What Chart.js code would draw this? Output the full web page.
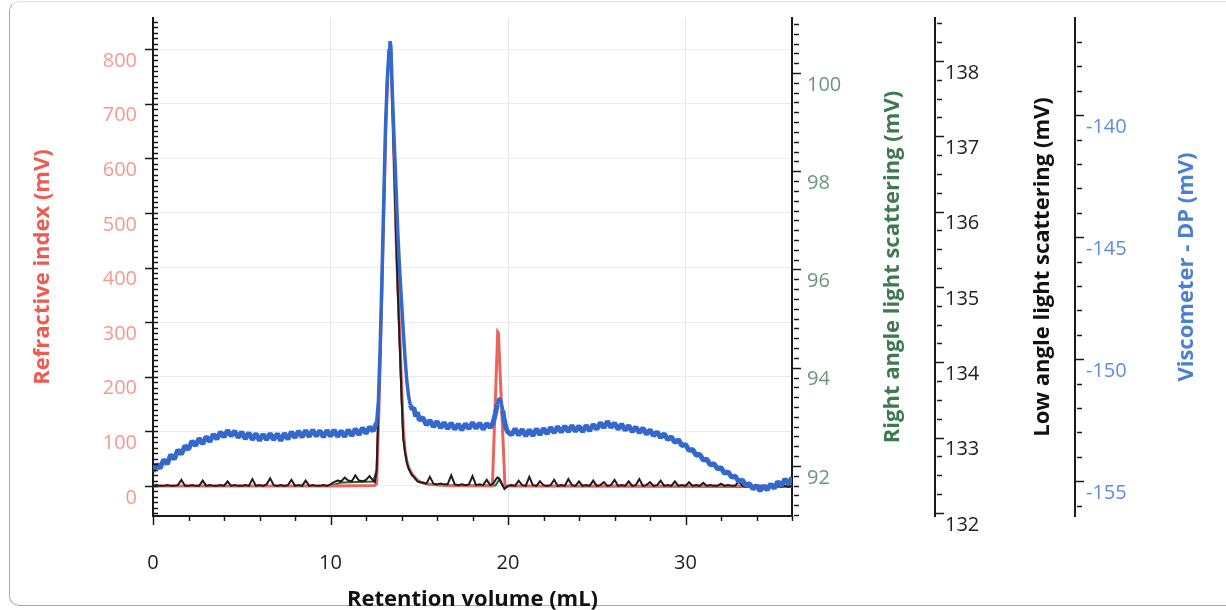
<!DOCTYPE html>
<html>
<head>
<meta charset="utf-8">
<script src="https://cdn.jsdelivr.net/npm/chart.js@4"></script>
<style>
  body { margin: 0; background: #fff; }
  #wrap { position: relative; width: 1226px; height: 610px; overflow: hidden; }
  #frame { position: absolute; left: 9px; top: 1px; width: 1260px; height: 603px;
           border: 1.5px solid #a9a9a9; border-top-color: #e2e2e2; border-radius: 10px; }
  #chart { position: absolute; left: 0; top: 0; }
</style>
</head>
<body>
<div id="wrap">
  <div id="frame"></div>
  <canvas id="chart" width="1226" height="610"></canvas>
</div>
<script>
// retention volume grid (mL) shared by viscometer and low angle traces
const volume = [
  0, 0.2, 0.4, 0.6, 0.8, 1, 1.2, 1.4, 1.6, 1.8,
  2, 2.2, 2.4, 2.6, 2.8, 3, 3.2, 3.4, 3.6, 3.8,
  4, 4.2, 4.4, 4.6, 4.8, 5, 5.2, 5.4, 5.6, 5.8,
  6, 6.2, 6.4, 6.6, 6.8, 7, 7.2, 7.4, 7.6, 7.8,
  8, 8.2, 8.4, 8.6, 8.8, 9, 9.2, 9.4, 9.6, 9.8,
  10, 10.2, 10.4, 10.6, 10.8, 11, 11.2, 11.4, 11.6, 11.8,
  12, 12.2, 12.4,
  12.5, 12.6, 12.7, 12.8, 12.9, 13, 13.1, 13.2, 13.3, 13.35, 13.4, 13.5, 13.6, 13.7,
  13.8, 13.9, 14, 14.1, 14.2, 14.3, 14.4, 14.5, 14.6, 14.7, 14.8, 14.9, 15,
  15.2, 15.4, 15.6, 15.8, 16, 16.2, 16.4, 16.6, 16.8, 17,
  17.2, 17.4, 17.6, 17.8, 18, 18.2, 18.4, 18.6, 18.8, 19,
  19.1, 19.2, 19.3, 19.4, 19.5, 19.6, 19.7, 19.8, 19.9, 20,
  20.2, 20.4, 20.6, 20.8, 21, 21.2, 21.4, 21.6, 21.8, 22,
  22.2, 22.4, 22.6, 22.8, 23, 23.2, 23.4, 23.6, 23.8, 24,
  24.2, 24.4, 24.6, 24.8, 25, 25.2, 25.4, 25.6, 25.8, 26,
  26.2, 26.4, 26.6, 26.8, 27, 27.2, 27.4, 27.6, 27.8, 28,
  28.2, 28.4, 28.6, 28.8, 29, 29.2, 29.4, 29.6, 29.8, 30,
  30.2, 30.4, 30.6, 30.8, 31, 31.2, 31.4, 31.6, 31.8, 32,
  32.2, 32.4, 32.6, 32.8, 33, 33.2, 33.4, 33.6, 33.8, 34,
  34.2, 34.4, 34.6, 34.8, 35, 35.2, 35.4, 35.6, 35.8, 36
];

// Viscometer - DP (mV)
const viscSignal = [
  -154.62, -154.3, -154.48, -154.12, -154.3, -153.92, -154.1, -153.72, -153.9, -153.55,
  -153.7, -153.36, -153.55, -153.25, -153.48, -153.18, -153.38, -153.08, -153.28, -152.98,
  -153.2, -152.92, -153.15, -152.95, -153.22, -152.98, -153.27, -153.02, -153.3, -153.05,
  -153.34, -153.08, -153.3, -153.05, -153.3, -153.06, -153.34, -153.04, -153.28, -152.98,
  -153.22, -152.95, -153.2, -152.92, -153.18, -152.9, -153.16, -152.93, -153.2, -152.92,
  -153.16, -152.9, -153.18, -152.94, -153.18, -152.9, -153.14, -152.86, -153.1, -152.82,
  -153.05, -152.78, -152.95,
  -152.79, -152.6, -151.72, -149.47, -146.6, -143.52, -140.45, -138.52, -137.3, -136.97, -137.17, -139.43, -141.27, -143.11,
  -144.96, -146.39, -147.62, -148.85, -149.96, -150.9, -151.52, -151.89, -152.05, -152.0, -152.35, -152.18, -152.5,
  -152.4, -152.7, -152.5, -152.78, -152.55, -152.82, -152.6, -152.85, -152.62, -152.88,
  -152.66, -152.9, -152.65, -152.86, -152.6, -152.84, -152.62, -152.88, -152.64, -152.8,
  -152.7, -152.5, -152.2, -151.85, -151.6, -151.7, -152.1, -152.55, -152.85, -153.0,
  -153.1, -152.85, -153.12, -152.88, -153.15, -152.9, -153.14, -152.86, -153.1, -152.84,
  -153.06, -152.8, -153.02, -152.76, -153.0, -152.74, -152.98, -152.72, -152.96, -152.74,
  -152.98, -152.72, -152.94, -152.68, -152.88, -152.6, -152.82, -152.55, -152.8, -152.62,
  -152.88, -152.66, -152.92, -152.72, -152.98, -152.78, -153.02, -152.82, -153.08, -152.9,
  -153.14, -152.98, -153.22, -153.06, -153.3, -153.18, -153.42, -153.3, -153.55, -153.5,
  -153.74, -153.7, -153.94, -153.9, -154.14, -154.1, -154.34, -154.28, -154.5, -154.45,
  -154.68, -154.62, -154.84, -154.8, -155.02, -154.95, -155.18, -155.1, -155.32, -155.18,
  -155.4, -155.2, -155.36, -155.12, -155.3, -155.02, -155.2, -154.92, -155.1, -154.85
];

// Low angle light scattering (mV)
const lalsSignal = [
  132.36, 132.37, 132.36, 132.36, 132.37, 132.36, 132.36, 132.37, 132.44, 132.36,
  132.36, 132.37, 132.36, 132.36, 132.43, 132.36, 132.37, 132.36, 132.36, 132.37,
  132.36, 132.42, 132.36, 132.37, 132.36, 132.36, 132.37, 132.36, 132.45, 132.36,
  132.37, 132.36, 132.38, 132.46, 132.37, 132.36, 132.37, 132.36, 132.37, 132.44,
  132.36, 132.37, 132.36, 132.43, 132.36, 132.37, 132.36, 132.36, 132.37, 132.36,
  132.38, 132.41, 132.43, 132.42, 132.47, 132.43, 132.42, 132.5, 132.43, 132.42,
  132.44, 132.49, 132.43,
  132.41, 132.57, 133.37, 134.16, 135.09, 136.09, 137.11, 137.75, 138.15, 138.25, 138.17, 137.35, 136.49, 135.62,
  134.89, 134.23, 133.56, 132.99, 132.81, 132.67, 132.59, 132.54, 132.5, 132.48, 132.45, 132.42, 132.41,
  132.4, 132.39, 132.48, 132.39, 132.38, 132.39, 132.38, 132.38, 132.5, 132.38,
  132.37, 132.38, 132.37, 132.38, 132.49, 132.37, 132.38, 132.37, 132.44, 132.37,
  132.38, 132.4, 132.44, 132.47, 132.46, 132.42, 132.36, 132.32, 132.34, 132.36,
  132.37, 132.36, 132.43, 132.37, 132.36, 132.48, 132.37, 132.36, 132.42, 132.37,
  132.36, 132.37, 132.44, 132.36, 132.37, 132.36, 132.45, 132.37, 132.36, 132.42,
  132.36, 132.37, 132.36, 132.43, 132.36, 132.37, 132.41, 132.36, 132.37, 132.44,
  132.36, 132.37, 132.36, 132.42, 132.36, 132.37, 132.45, 132.36, 132.37, 132.41,
  132.36, 132.37, 132.43, 132.36, 132.37, 132.36, 132.42, 132.36, 132.37, 132.36,
  132.41, 132.36, 132.37, 132.36, 132.4, 132.36, 132.37, 132.36, 132.36, 132.39,
  132.36, 132.37, 132.36, 132.36, 132.42, 132.36, 132.35, 132.36, 132.35, 132.36,
  132.35, 132.36, 132.35, 132.36, 132.35, 132.36, 132.35, 132.36, 132.35, 132.36
];

// Refractive index (mV)
const riVolume = [0, 10, 12.5, 12.6, 12.7, 12.8, 12.9, 13, 13.1, 13.2, 13.3, 13.35, 13.4, 13.5, 13.6, 13.7, 13.8,
  13.9, 14, 14.1, 14.2, 14.3, 14.4, 14.6, 14.8, 15, 15.5, 16.5, 19.12, 19.42, 19.46, 19.83, 20.5, 36];
const riSignal = [0, 0, 1, 4, 110, 230, 360, 500, 640, 740, 795, 808, 795, 690, 570, 450, 360,
  280, 190, 105, 65, 45, 34, 22, 14, 8, 3, 1, 0, 282, 280, 0, 0, 0];

// Right angle light scattering (mV)
const ralsVolume = [0, 10, 10.6, 12.4, 12.6, 12.7, 12.8, 12.9, 13, 13.1, 13.2, 13.3, 13.35, 13.4, 13.5, 13.6,
  13.7, 13.8, 13.9, 14, 14.1, 14.2, 14.4, 14.6, 14.8, 15.2, 16, 19.3, 19.5, 19.7, 20, 36];
const ralsSignal = [91.59, 91.59, 91.66, 91.68, 91.91, 93.14, 94.36, 95.78, 97.31, 98.88, 99.86, 100.47, 100.63, 100.51, 99.25, 97.92,
  96.6, 95.48, 94.46, 93.44, 92.57, 92.28, 91.96, 91.81, 91.73, 91.65, 91.61, 91.6, 91.72, 91.6, 91.59, 91.57];

// tick labels
const volumeTicks = [0, 10, 20, 30];
const riTicks = [0, 100, 200, 300, 400, 500, 600, 700, 800];
const ralsTicks = [92, 94, 96, 98, 100];
const lalsTicks = [132, 133, 134, 135, 136, 137, 138];
const viscTicks = [-155, -150, -145, -140];

const tickFont = { family: '"Open Sans", sans-serif', size: 20 };
const titleFont = 'bold 22px "Open Sans", sans-serif';

function setTicks(list) {
  return (scale) => { scale.ticks = list.map(v => ({ value: v })); };
}

// fixed box size, no extra room asked for the end labels
function boxSize(w, h) {
  return (scale) => {
    if (w) scale.width = w;
    if (h) scale.height = h;
    scale.paddingTop = 0;
    scale.paddingBottom = 0;
    scale.paddingLeft = 0;
    scale.paddingRight = 0;
  };
}

// small + big tick marks along every axis
const minorSteps = { x: 2, ri: 10, rals: 0.2, lals: 0.25, visc: 1 };

const tickMarks = {
  id: 'tickMarks',
  afterDraw(chart) {
    const ctx = chart.ctx;
    ctx.save();
    ctx.strokeStyle = '#1a1a1a';
    ctx.lineWidth = 1.5;
    Object.keys(minorSteps).forEach(id => {
      const s = chart.scales[id];
      const step = minorSteps[id];
      const first = Math.ceil(s.min / step - 1e-6);
      const last = Math.floor(s.max / step + 1e-6);
      for (let k = first; k <= last; k++) {
        const v = k * step;
        const big = s.ticks.some(t => Math.abs(t.value - v) < 1e-6);
        const p = Math.round(s.getPixelForValue(v)) + 0.5;
        ctx.beginPath();
        if (id === 'x') {
          ctx.moveTo(p, s.top);
          ctx.lineTo(p, s.top + (big ? 9 : 5));
        } else if (id === 'ri') {
          ctx.moveTo(s.right - (big ? 8 : 0), p);
          ctx.lineTo(s.right + 5, p);
        } else {
          ctx.moveTo(s.left + (big ? 0 : 2), p);
          ctx.lineTo(s.left + (big ? 9 : 7), p);
        }
        ctx.stroke();
      }
    });
    ctx.restore();
  }
};

// axis titles, all reading bottom to top
const axisTitles = {
  id: 'axisTitles',
  afterDraw(chart) {
    const { ctx, chartArea, scales } = chart;
    const midY = (chartArea.top + chartArea.bottom) / 2;
    ctx.save();
    ctx.font = titleFont;
    ctx.textAlign = 'center';
    ctx.textBaseline = 'middle';
    const side = [
      ['Refractive index (mV)', scales.ri.left + 43, '#ef5a50'],
      ['Right angle light scattering (mV)', scales.rals.left + 101, '#3d7a50'],
      ['Low angle light scattering (mV)', scales.lals.left + 108, '#111111'],
      ['Viscometer - DP (mV)', scales.visc.left + 112, '#4a7fd6']
    ];
    side.forEach(([text, x, color]) => {
      ctx.save();
      ctx.translate(x, midY);
      ctx.rotate(-Math.PI / 2);
      ctx.fillStyle = color;
      ctx.fillText(text, 0, 0);
      ctx.restore();
    });
    ctx.fillStyle = '#111111';
    ctx.fillText('Retention volume (mL)', (chartArea.left + chartArea.right) / 2, 600);
    ctx.restore();
  }
};

const axisBorder = { display: true, color: '#1a1a1a', width: 2 };

new Chart(document.getElementById('chart'), {
  type: 'line',
  data: {
    datasets: [
      {
        label: 'Viscometer - DP',
        data: volume.map((v, i) => ({ x: v, y: viscSignal[i] })),
        yAxisID: 'visc',
        borderColor: '#3468cc',
        borderWidth: 5,
        borderJoinStyle: 'bevel',
        // the noisy baseline reads as a thick band, the peaks as a thinner line
        segment: {
          borderWidth: c => (c.p0.parsed.y > -151.8 || c.p1.parsed.y > -151.8) ? 3.5 : 5
        },
        order: 0
      },
      {
        label: 'Low angle light scattering',
        data: volume.map((v, i) => ({ x: v, y: lalsSignal[i] })),
        yAxisID: 'lals',
        borderColor: '#1e1e1e',
        borderWidth: 2,
        order: 1
      },
      {
        label: 'Refractive index',
        data: riVolume.map((v, i) => ({ x: v, y: riSignal[i] })),
        yAxisID: 'ri',
        borderColor: '#e8655e',
        borderWidth: 3,
        order: 2
      },
      {
        label: 'Right angle light scattering',
        data: ralsVolume.map((v, i) => ({ x: v, y: ralsSignal[i] })),
        yAxisID: 'rals',
        borderColor: '#2e5e3c',
        borderWidth: 2,
        order: 3
      }
    ]
  },
  options: {
    responsive: false,
    animation: false,
    layout: { padding: { top: 18, left: 0, right: 0, bottom: 0 } },
    plugins: { legend: { display: false }, tooltip: { enabled: false } },
    elements: { point: { radius: 0 }, line: { tension: 0 } },
    scales: {
      x: {
        type: 'linear', position: 'bottom', min: 0, max: 36,
        afterBuildTicks: setTicks(volumeTicks),
        afterFit: boxSize(0, 94),
        border: axisBorder,
        grid: { color: '#e4e4e4', drawTicks: false },
        ticks: { color: '#222', font: tickFont, padding: 35, maxRotation: 0 }
      },
      ri: {
        type: 'linear', position: 'left', min: -55, max: 857,
        afterBuildTicks: setTicks(riTicks),
        afterFit: boxSize(153, 0),
        border: axisBorder,
        grid: { color: '#ececec', drawTicks: false },
        ticks: { color: '#f29a90', font: tickFont, padding: 16, labelOffset: 12 }
      },
      rals: {
        type: 'linear', position: 'right', min: 90.98, max: 101.12,
        afterBuildTicks: setTicks(ralsTicks),
        afterFit: boxSize(143, 0),
        border: axisBorder,
        grid: { drawOnChartArea: false, drawTicks: false },
        ticks: { color: '#6a9778', font: tickFont, padding: 15, labelOffset: 12 }
      },
      lals: {
        type: 'linear', position: 'right', min: 131.96, max: 138.57,
        afterBuildTicks: setTicks(lalsTicks),
        afterFit: boxSize(140, 0),
        border: axisBorder,
        grid: { drawOnChartArea: false, drawTicks: false },
        ticks: { color: '#222', font: tickFont, padding: 10, labelOffset: 12 }
      },
      visc: {
        type: 'linear', position: 'right', min: -156.43, max: -136.02,
        afterBuildTicks: setTicks(viscTicks),
        afterFit: boxSize(151, 0),
        border: axisBorder,
        grid: { drawOnChartArea: false, drawTicks: false },
        ticks: { color: '#5b8ee0', font: tickFont, padding: 11, labelOffset: 12 }
      }
    }
  },
  plugins: [tickMarks, axisTitles]
});
</script>
</body>
</html>
